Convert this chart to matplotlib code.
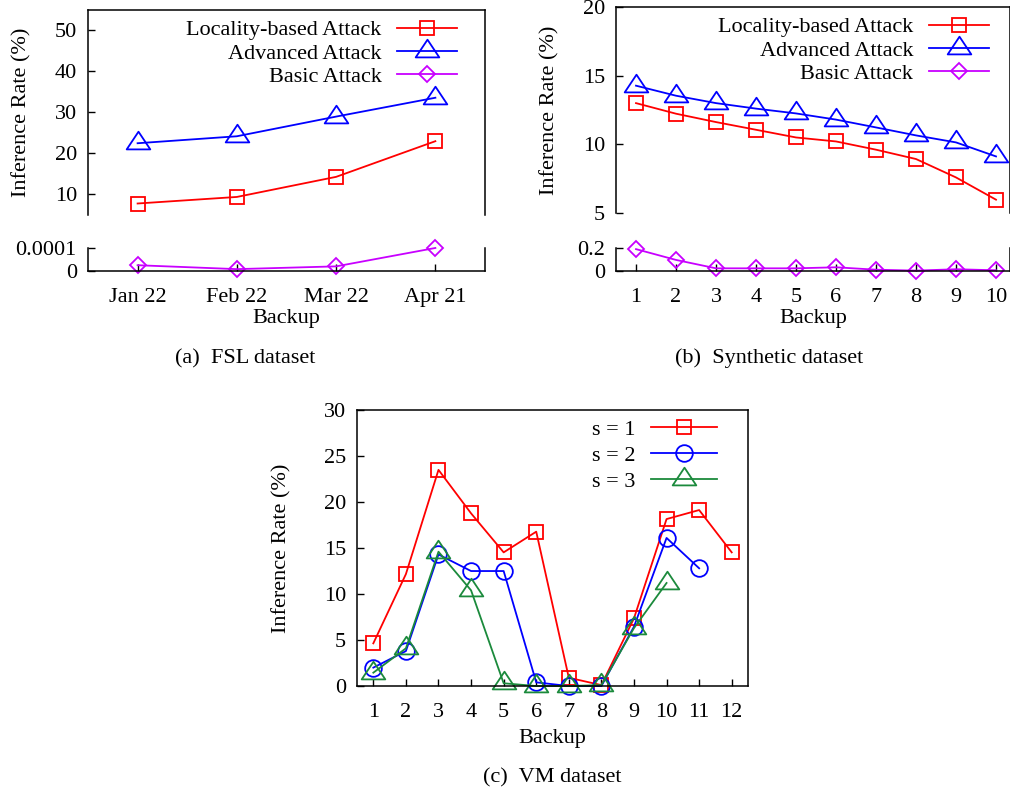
import matplotlib
matplotlib.use("Agg")
import matplotlib.pyplot as plt
from matplotlib.path import Path

plt.rcParams["font.family"] = ["Liberation Serif", "DejaVu Serif"]
plt.rcParams["font.size"] = 16

# FSL dataset
fsl_backups = ["Jan 22", "Feb 22", "Mar 22", "Apr 21"]
fsl_locality = [7.8, 9.4, 14.3, 23.0]
fsl_advanced = [22.5, 24.2, 29.0, 33.6]
fsl_basic = [0.000025, 0.000008, 0.00002, 0.0001]

# Synthetic dataset
syn_backups = [1, 2, 3, 4, 5, 6, 7, 8, 9, 10]
syn_locality = [13.0, 12.23, 11.62, 11.06, 10.5, 10.21, 9.61, 8.93, 7.59, 5.97]
syn_advanced = [14.27, 13.54, 13.0, 12.6, 12.25, 11.8, 11.23, 10.65, 10.14, 9.12]
syn_basic = [0.19, 0.096, 0.023, 0.023, 0.023, 0.032, 0.011, 0.003, 0.015, 0.006]

# VM dataset
vm_s1_x = [1, 2, 3, 4, 5, 6, 7, 8, 9, 10, 11, 12]
vm_s1 = [4.64, 12.17, 23.5, 18.77, 14.53, 16.78, 0.9, 0.1, 7.36, 18.15, 19.13, 14.53]
vm_s2_x = [1, 2, 3, 4, 5, 6, 7, 8, 9, 10, 11]
vm_s2 = [2.0, 3.8, 14.3, 12.5, 12.5, 0.4, 0.0, 0.0, 6.45, 16.1, 12.8]
vm_s3_x = [1, 2, 3, 4, 5, 6, 7, 8, 9, 10]
vm_s3 = [1.45, 4.1, 14.6, 10.4, 0.3, 0.0, 0.0, 0.1, 6.3, 11.2]

RED = "#ff0000"
BLUE = "#0000ff"
PURPLE = "#c800ff"
GREEN = "#1b8a3c"

# gnuplot-style triangle: apex higher above the point than the base below it
tri = Path([(0, 11), (-11, -5.5), (11, -5.5), (0, 11)],
           [Path.MOVETO, Path.LINETO, Path.LINETO, Path.CLOSEPOLY])

sty = dict(lw=1.3, mew=1.3, mfc="none")
sq = dict(marker="s", ms=10, **sty)
tr = dict(marker=tri, ms=17, **sty)
dm = dict(marker="D", ms=8.2, **sty)
ci = dict(marker="o", ms=12, **sty)

fig = plt.figure(figsize=(10.10, 7.93), dpi=100)


def style(ax, top_part=None):
    ax.tick_params(direction="in", length=5, width=1)
    ax.tick_params(axis="x", pad=12)
    ax.tick_params(axis="y", pad=8)
    ax.tick_params(axis="both", which="both", top=False, right=False)
    for s in ax.spines.values():
        s.set_linewidth(1.1)
    if top_part is True:
        ax.spines["bottom"].set_visible(False)
        ax.tick_params(axis="x", bottom=False, labelbottom=False)
    elif top_part is False:
        ax.spines["top"].set_visible(False)


def right_legend(ax, anchor, spacing, hlen=2.7):
    leg = ax.legend(frameon=False, markerfirst=False, handlelength=hlen,
                    handletextpad=0.7, borderaxespad=0, loc="upper right",
                    bbox_to_anchor=anchor, labelspacing=spacing)
    # line the rows up on their right edge, labels right-aligned like gnuplot
    for col in leg._legend_handle_box.get_children():
        col.align = "right"
    return leg


# (a) FSL
a_top = fig.add_axes([0.0871, 0.7289, 0.3931, 0.2585])
a_bot = fig.add_axes([0.0871, 0.6583, 0.3931, 0.0290], sharex=a_top)
xa = range(len(fsl_backups))
a_top.plot(xa, fsl_locality, color=RED, label="Locality-based Attack", **sq)
a_top.plot(xa, fsl_advanced, color=BLUE, label="Advanced Attack", **tr)
a_top.plot([], [], color=PURPLE, label="Basic Attack", **dm)
a_bot.plot(xa, fsl_basic, color=PURPLE, clip_on=False, **dm)
a_top.set_ylim(5, 55)
a_top.set_yticks([10, 20, 30, 40, 50])
a_bot.set_ylim(0, 0.0001)
a_bot.set_yticks([0, 0.0001])
a_bot.set_yticklabels(["0", "0.0001"])
a_bot.set_xlim(-0.5, 3.5)
a_bot.set_xticks(list(xa))
a_bot.set_xticklabels(fsl_backups)
style(a_top, True)
style(a_bot, False)
a_top.set_ylabel("Inference Rate (%)", labelpad=17)
a_bot.set_xlabel("Backup", labelpad=1.5)
right_legend(a_top, (0.952, 0.995), 0.12)

# (b) Synthetic
b_top = fig.add_axes([0.6099, 0.7314, 0.3901, 0.2598])
b_bot = fig.add_axes([0.6099, 0.6583, 0.3901, 0.0290], sharex=b_top)
b_top.plot(syn_backups, syn_locality, color=RED, label="Locality-based Attack", **sq)
b_top.plot(syn_backups, syn_advanced, color=BLUE, label="Advanced Attack", **tr)
b_top.plot([], [], color=PURPLE, label="Basic Attack", **dm)
b_bot.plot(syn_backups, syn_basic, color=PURPLE, clip_on=False, **dm)
b_top.set_ylim(5, 20)
b_top.set_yticks([5, 10, 15, 20])
b_bot.set_ylim(0, 0.2)
b_bot.set_yticks([0, 0.2])
b_bot.set_yticklabels(["0", "0.2"])
b_bot.set_xlim(0.5, 10.35)
b_bot.set_xticks(syn_backups)
style(b_top, True)
style(b_bot, False)
b_top.set_ylabel("Inference Rate (%)", labelpad=17)
b_bot.set_xlabel("Backup", labelpad=1.5)
right_legend(b_top, (0.969, 0.995), 0.12)

# (c) VM
c = fig.add_axes([0.3535, 0.1349, 0.3871, 0.3480])
c.plot(vm_s1_x, vm_s1, color=RED, label="s = 1", clip_on=False, **sq)
c.plot(vm_s2_x, vm_s2, color=BLUE, label="s = 2", clip_on=False, **ci)
c.plot(vm_s3_x, vm_s3, color=GREEN, label="s = 3", clip_on=False, **tr)
c.set_xlim(0.5, 12.5)
c.set_ylim(0, 30)
c.set_xticks(vm_s1_x)
c.set_yticks([0, 5, 10, 15, 20, 25, 30])
style(c)
c.set_ylabel("Inference Rate (%)", labelpad=23)
c.set_xlabel("Backup", labelpad=5.5)
right_legend(c, (0.944, 0.999), 0.25, hlen=3.0)

fig.text(0.2426, 0.548, "(a)  FSL dataset", ha="center", va="center")
fig.text(0.762, 0.548, "(b)  Synthetic dataset", ha="center", va="center")
fig.text(0.5465, 0.019, "(c)  VM dataset", ha="center", va="center")

fig.savefig("out.png", dpi=100)
